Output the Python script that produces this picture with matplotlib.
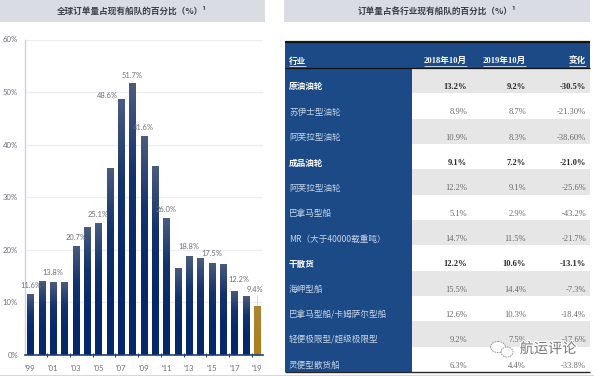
import numpy as np
import matplotlib
matplotlib.use("Agg")
import matplotlib.pyplot as plt
from matplotlib.patches import Rectangle, Ellipse
from matplotlib.colors import LinearSegmentedColormap
import matplotlib.patheffects as pe

W, H = 594, 376
SANS = ['Lato', 'Noto Sans CJK SC', 'DejaVu Sans']
CJK = ['Noto Sans CJK SC', 'DejaVu Sans']
SERIF = ['Liberation Serif', 'Noto Sans CJK SC']

# ---- data ----
years = list(range(1999, 2020))
shares = [11.6, 14.1, 13.8, 13.9, 20.7, 24.4, 25.1, 35.6, 48.6, 51.7, 41.6,
          36.0, 26.0, 16.5, 18.8, 18.4, 17.5, 17.4, 12.2, 11.2, 9.4]
label_text = {1999: '11.6%', 2001: '13.8%', 2003: '20.7%', 2005: '25.1%',
              2007: '48.6%', 2008: '51.7%', 2009: '41.6%', 2011: '26.0%',
              2013: '18.8%', 2015: '17.5%', 2017: '12.2%', 2019: '9.4%'}
# label centre offset from the bar top: (pixels right, pixels up)
label_shift = {1999: (1, 9), 2001: (0, 10), 2003: (0, 9), 2005: (0, 9),
               2007: (-14, 4), 2008: (0, 8), 2009: (0, 9), 2011: (0, 9),
               2013: (0, 10), 2015: (0, 9), 2017: (4, 11), 2019: (-2, 16)}
x_ticks = list(range(1999, 2020, 2))
x_ticklabels = ["'99", "'01", "'03", "'05", "'07", "'09", "'11", "'13", "'15", "'17", "'19"]
y_ticks = [0, 10, 20, 30, 40, 50, 60]

left_title = '全球订单量占现有船队的百分比（%）¹'
right_title = '订单量占各行业现有船队的百分比（%）¹'
headers = ['行业', '2018年10月', '2019年10月', '变化']
segments = ['原油油轮', '苏伊士型油轮', '阿芙拉型油轮', '成品油轮', '阿芙拉型油轮', '巴拿马型船',
            'MR（大于40000载重吨）', '干散货', '海岬型船', '巴拿马型船/卡姆萨尔型船',
            '轻便极限型/超级极限型', '灵便型散货船']
col_2018 = ['13.2%', '8.9%', '10.9%', '9.1%', '12.2%', '5.1%', '14.7%', '12.2%', '15.5%', '12.6%', '9.2%', '6.3%']
col_2019 = ['9.2%', '8.7%', '8.3%', '7.2%', '9.1%', '2.9%', '11.5%', '10.6%', '14.4%', '10.3%', '7.5%', '4.4%']
col_change = ['-30.5%', '-21.30%', '-38.60%', '-21.0%', '-25.6%', '-43.2%', '-21.7%', '-13.1%',
              '-7.3%', '-18.4%', '-17.6%', '-33.8%']
bold_rows = [0, 3, 7]

# ---- figure ----
fig = plt.figure(figsize=(W / 100, H / 100), dpi=100, facecolor='white')
bg = fig.add_axes([0, 0, 1, 1])
bg.set_xlim(0, W)
bg.set_ylim(H, 0)
bg.axis('off')

# title bands
for x0, x1, t, cx in [(0, 265, left_title, 132), (284, 590, right_title, 437)]:
    bg.add_patch(Rectangle((x0, 0), x1 - x0, 22, fc='#d9dde3', ec='none'))
    bg.text(cx, 11, t, ha='center', va='center', fontsize=6.2, color='#3a3f48',
            family=CJK, fontweight='bold')

# ---- bar chart ----
ax_l, ax_r, ax_t, ax_b = 25, 263, 39.5, 355
ax = fig.add_axes([ax_l / W, 1 - ax_b / H, (ax_r - ax_l) / W, (ax_b - ax_t) / H])
px_per_year = 11.35
x0_year = 1999 - (30.3 - ax_l) / px_per_year
ax.patch.set_alpha(0)
for s in ['top', 'right']:
    ax.spines[s].set_visible(False)
ax.spines['left'].set_color('#c9d3e6')
ax.spines['left'].set_linewidth(1.0)
ax.spines['bottom'].set_color('#1f3f7a')
ax.spines['bottom'].set_linewidth(1.2)
ax.set_yticks(y_ticks)
ax.set_yticklabels([f'{v}%' for v in y_ticks], fontsize=5.6, color='#6b6f76', family=SANS)
ax.tick_params(axis='y', length=0, pad=5)
ax.set_xticks(x_ticks)
ax.set_xticklabels(x_ticklabels, fontsize=5.6, color='#6b6f76', family=SANS)
ax.tick_params(axis='x', which='major', length=0, pad=7)
ax.set_xticks([t - 0.5 for t in x_ticks], minor=True)
ax.tick_params(axis='x', which='minor', length=3, width=0.8, color='#1f3f7a', direction='inout')
ax.grid(axis='y', color='#eceef1', linewidth=0.9, zorder=0)
ax.set_axisbelow(True)

navy = LinearSegmentedColormap.from_list('n', ['#4a5b7e', '#14336c', '#06286a', '#06286a'])
gold = LinearSegmentedColormap.from_list('g', ['#a88433', '#b07f1c'])
bars = ax.bar(years, shares, width=0.55, color='none', zorder=2)
grad = np.linspace(0, 1, 128).reshape(-1, 1)
for yr, v, b in zip(years, shares, bars):
    cm = gold if yr == 2019 else navy
    im = ax.imshow(grad, extent=(yr - 0.3, yr + 0.3, 0, v), aspect='auto', cmap=cm,
                   vmin=0, vmax=1, origin='upper', zorder=2)
    im.set_clip_path(b)
ax.set_xlim(x0_year, x0_year + (ax_r - ax_l) / px_per_year)
ax.set_ylim(0, 60)
for yr, txt in label_text.items():
    dx, dy = label_shift[yr]
    v = shares[years.index(yr)]
    ax.annotate(txt, (yr, v), xytext=(dx * 0.72, dy * 0.72), textcoords='offset points',
                ha='center', va='center', fontsize=5.4, color='#6b6f76',
                family=SANS, zorder=3, annotation_clip=False)
ax.plot([2019, 2019], [9.6, 11.4], color='#c8c8c8', lw=0.5, zorder=3)

# footer rule
bg.plot([0, 594], [374.5, 374.5], color='#d8d8d8', lw=0.8)

# ---- table ----
tl, tr, split = 285, 590, 412
head_top, head_bot = 42, 68
n = len(segments)
row_h = (372 - head_bot) / n
col_x = [289, 467, 526, 586]
bg.add_patch(Rectangle((tl, head_top), tr - tl, head_bot - head_top, fc='#1b4a86', ec='none'))
bg.add_patch(Rectangle((tl, head_bot), split - tl, row_h * n, fc='#1b4a86', ec='none'))
bg.plot([tl, tr], [head_top, head_top], color='#101418', lw=1.6, solid_capstyle='butt')
bg.plot([tl, tr], [head_bot, head_bot], color='#101418', lw=0.9, solid_capstyle='butt')
bg.plot([tl, tr], [head_bot + row_h * n, head_bot + row_h * n], color='#2a2a2a', lw=1.0,
        solid_capstyle='butt')
fig.canvas.draw()
inv = bg.transData.inverted()
for j, h in enumerate(headers):
    ha = 'left' if j == 0 else 'right'
    t = bg.text(col_x[j], 61, h, ha=ha, va='center', fontsize=6.2, fontweight='bold',
                color='white', family=SERIF if j else CJK)
    ext = t.get_window_extent(fig.canvas.get_renderer())
    x_a = inv.transform((ext.x0, 0))[0]
    x_b = inv.transform((ext.x1, 0))[0]
    bg.plot([x_a, x_b], [66, 66], color='white', lw=0.5, solid_capstyle='butt')
for i in range(n):
    y = head_bot + row_h * i
    if i % 2 == 0:
        bg.add_patch(Rectangle((split, y), tr - split, row_h, fc='#e6e6e6', ec='none', zorder=0.5))
    yc = y + 19
    bold = i in bold_rows
    bg.text(col_x[0], yc, segments[i], ha='left', va='center', fontsize=6.2,
            fontweight='bold' if bold else 'normal',
            color='white' if bold else '#c9d5e6', family=CJK)
    for j, col in enumerate([col_2018, col_2019, col_change]):
        bg.text(col_x[j + 1], yc, col[i], ha='right', va='center', fontsize=6.1,
                fontweight='bold' if bold else 'normal',
                color='#2a2a2a' if bold else '#6a6a6a', family=SERIF)

# watermark
halo = [pe.withStroke(linewidth=1.6, foreground='white')]
bg.add_patch(Ellipse((498, 347), 15, 11, fc='white', ec='#8a8a8a', lw=0.6, ls=(0, (2, 1)), zorder=5))
bg.add_patch(Ellipse((507, 352), 12, 10, fc='white', ec='#8a8a8a', lw=0.6, ls=(0, (2, 1)), zorder=5))
bg.text(548, 349, '航运评论', ha='center', va='center', fontsize=10.2, color='#777777',
        family=CJK, path_effects=halo, zorder=6)

fig.savefig('out.png', dpi=100, facecolor='white')
